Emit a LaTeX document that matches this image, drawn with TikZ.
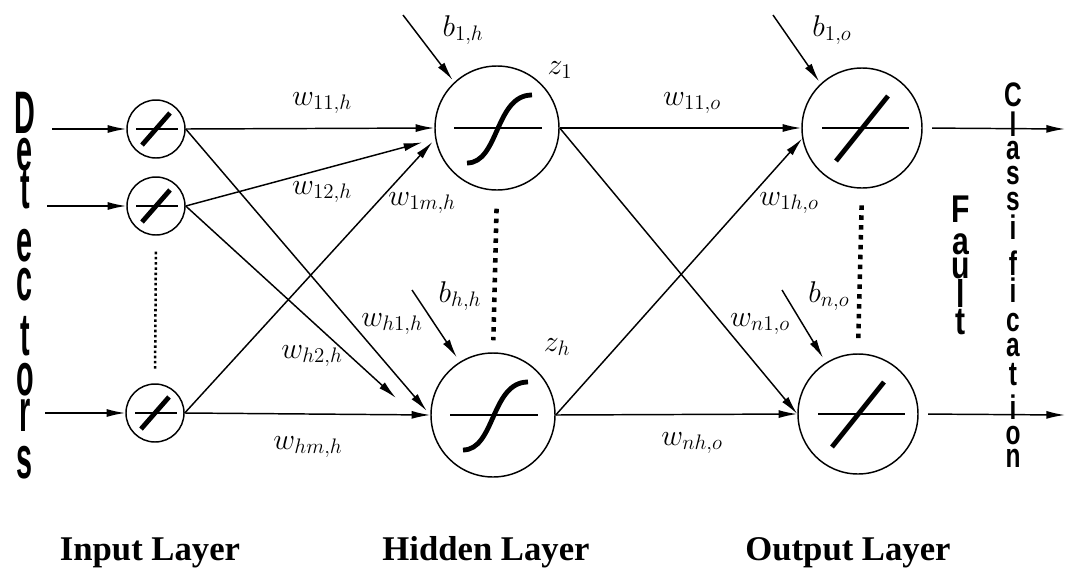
\RequirePackage{fix-cm}
\documentclass[tikz,border=0pt]{standalone}
\usepackage{fontspec}
\setmainfont{Liberation Serif}
\newfontfamily\tallsans{Liberation Sans}
\usepackage{graphicx}
\usetikzlibrary{arrows.meta,calc}
% condensed letters for the vertical captions
\newcommand\narrowD[1]{\scalebox{0.48}[1]{#1}}
\newcommand\narrowF[1]{\scalebox{0.78}[1]{#1}}
\newcommand\narrowC[1]{\scalebox{0.72}[1]{#1}}
% keep the baseline distance fixed however tall the letters are
\newcommand\fixedlines{\lineskiplimit=-100pt\relax}

\begin{document}
\begin{tikzpicture}[x=0.75pt,y=-0.75pt,
  neuron/.style={circle,draw,line width=1.1pt,inner sep=0pt},
  inneuron/.style={neuron,minimum size=43.5pt},
  hidneuron/.style={neuron,minimum size=93pt},
  outneuron/.style={neuron,minimum size=90pt},
  conn/.style={line width=1.1pt,-{Latex[length=14pt,width=6pt]}},
  axisline/.style={line width=1pt},
  transfer/.style={line width=3.6pt},
  wlab/.style={inner sep=0pt,font=\fontsize{22.5}{26}\selectfont},
  laylab/.style={inner sep=0pt,anchor=base,font=\fontsize{26}{30}\selectfont\bfseries},
  vcap/.style={inner sep=0pt,anchor=north,align=center},
  smalldots/.style={line width=1.9pt,dash pattern=on 1.9pt off 2pt},
  bigdots/.style={line width=3.4pt,dash pattern=on 3.4pt off 4pt}]

\useasboundingbox (0,0) rectangle (1065,568);

% neurons
\node[inneuron] (in1) at (156,129) {};
\node[inneuron] (in2) at (156,206) {};
\node[inneuron] (in3) at (155,413) {};
\node[hidneuron] (hid1) at (497,128) {};
\node[hidneuron] (hid2) at (493,415) {};
\node[outneuron] (out1) at (862,128) {};
\node[outneuron] (out2) at (858,414) {};

% linear transfer symbols (input layer)
\foreach \n in {in1,in2,in3}{
  \draw[axisline] ($(\n)+(-20,0)$) -- ($(\n)+(22,0)$);
  \draw[transfer] ($(\n)+(-14,16)$) -- ($(\n)+(14,-16)$);
}
% sigmoid transfer symbols (hidden layer)
\foreach \n in {hid1,hid2}{
  \draw[axisline] ($(\n)+(-43,0)$) -- ($(\n)+(45,0)$);
  \draw[transfer] ($(\n)+(-30,35)$) .. controls ($(\n)+(2,35)$) and ($(\n)+(-2,-33)$) .. ($(\n)+(35,-33)$);
}
% linear transfer symbols (output layer)
\foreach \n in {out1,out2}{
  \draw[axisline] ($(\n)+(-40,0)$) -- ($(\n)+(47,0)$);
  \draw[transfer] ($(\n)+(-26,33)$) -- ($(\n)+(26,-32)$);
}

% detector inputs
\coordinate (src1) at (52,129);
\coordinate (src2) at (47,206);
\coordinate (src3) at (45,413);
\draw[conn] (src1) -- (in1.west);
\draw[conn] (src2) -- (in2.west);
\draw[conn] (src3) -- (in3.west);

% input -> hidden
\draw[conn] (in1.east) -- (hid1.west);
\draw[conn,shorten >=10pt] (in2.east) -- (hid1.190);
\draw[conn,shorten >=3pt] (in3.east) -- (hid1.190);
\draw[conn,shorten >=4pt] (in1.east) -- (hid2.west);
\draw[conn,shorten >=37pt] (in2.east) -- (hid2.195);
\draw[conn] (in3.east) -- (hid2.west);

% hidden -> output
\draw[conn] (hid1.east) -- (out1.west);
\draw[conn] (hid1.east) -- (out2.west);
\draw[conn] (hid2.east) -- (out1.190);
\draw[conn] (hid2.east) -- (out2.west);

% bias inputs
\coordinate (bh1) at (403,15);
\coordinate (bhh) at (412,290);
\coordinate (bo1) at (773,15);
\coordinate (bon) at (782,290);
\draw[conn,shorten >=2pt] (bh1) -- (hid1.133);
\draw[conn,shorten >=4pt] (bhh) -- (hid2.122);
\draw[conn,shorten >=2pt] (bo1) -- (out1.133);
\draw[conn,shorten >=4pt] (bon) -- (out2.122);

% outputs
\coordinate (res1) at (1065,129);
\coordinate (res2) at (1065,415);
\draw[conn,shorten <=7pt] (out1.east) -- (res1);
\draw[conn,shorten <=7pt] (out2.east) -- (res2);

% ellipses between neurons
\draw[smalldots,shorten <=12pt,shorten >=9pt] (in2.south) -- (in3.north);
\draw[bigdots,shorten <=13.5pt,shorten >=9pt] (hid1.south) -- (hid2.north);
\draw[bigdots,shorten <=12.5pt,shorten >=10.5pt] (out1.south) -- (out2.north);

% weight and bias labels
\node[wlab] (lw11h) at (322,103) {$w_{11,h}$};
\node[wlab] (lw12h) at (322,192) {$w_{12,h}$};
\node[wlab] (lw1mh) at (422,203) {$w_{1m,h}$};
\node[wlab] (lwh1h) at (392,324) {$w_{h1,h}$};
\node[wlab] (lwh2h) at (312,356) {$w_{h2,h}$};
\node[wlab] (lwhmh) at (308,447) {$w_{hm,h}$};
\node[wlab] (lb1h) at (463,30) {$b_{1,h}$};
\node[wlab] (lbhh) at (460,296) {$b_{h,h}$};
\node[wlab] (lz1) at (560,70) {$z_1$};
\node[wlab] (lzh) at (557,347) {$z_h$};
\node[wlab] (lw11o) at (692,103) {$w_{11,o}$};
\node[wlab] (lw1ho) at (789,203) {$w_{1h,o}$};
\node[wlab] (lwn1o) at (760,324) {$w_{n1,o}$};
\node[wlab] (lwnho) at (692,443) {$w_{nh,o}$};
\node[wlab] (lb1o) at (832,30) {$b_{1,o}$};
\node[wlab] (lbno) at (829,296) {$b_{n,o}$};

% vertical captions, one letter per line
\node[vcap,font={\fontsize{45}{27}\selectfont\tallsans\bfseries\fixedlines}]
  (detectors) at (25,92)
  {\narrowD{D}\\[0.75pt]\narrowD{e}\\[1.5pt]\narrowD{t}\\[12.75pt]\narrowD{e}\\[2.25pt]%
   \narrowD{c}\\[14.25pt]\narrowD{t}\\[3pt]\narrowD{o}\\[0pt]\narrowD{r}\\[8.25pt]\narrowD{s}};
\node[vcap,font={\fontsize{29}{18}\selectfont\tallsans\bfseries\fixedlines}]
  (fault) at (961,195.5)
  {\narrowF{F}\\[6pt]\narrowF{a}\\[0pt]\narrowF{u}\\[3.75pt]\narrowF{l}\\[2.25pt]\narrowF{t}};
\node[vcap,font={\fontsize{25.5}{17.25}\selectfont\tallsans\bfseries\fixedlines}]
  (classification) at (1013,82.7)
  {\narrowC{C}\\[5.25pt]\narrowC{l}\\[0pt]\narrowC{a}\\[1.5pt]\narrowC{s}\\[2.25pt]%
   \narrowC{s}\\[4.5pt]\narrowC{i}\\[9.75pt]\narrowC{f}\\[3pt]\narrowC{i}\\[4.5pt]%
   \narrowC{c}\\[1.5pt]\narrowC{a}\\[4.5pt]\narrowC{t}\\[8.25pt]\narrowC{i}\\[1.5pt]%
   \narrowC{o}\\[0pt]\narrowC{n}};

% layer captions
\node[laylab] (linput) at (150,560) {Input Layer};
\node[laylab] (lhidden) at (486,560) {Hidden Layer};
\node[laylab] (loutput) at (848,560) {Output Layer};
\end{tikzpicture}
\end{document}
